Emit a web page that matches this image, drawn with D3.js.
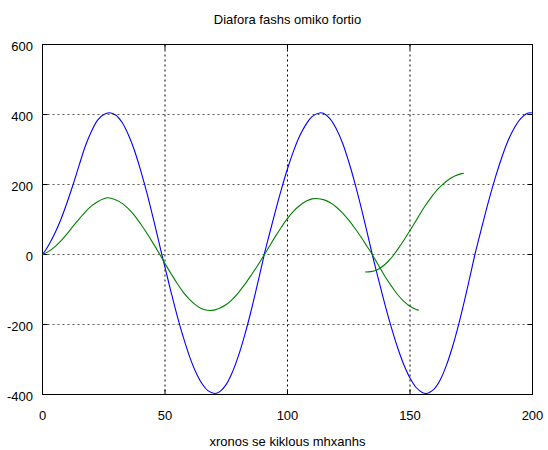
<!DOCTYPE html>
<html>
<head>
<meta charset="utf-8">
<script src="https://cdn.jsdelivr.net/npm/d3@7"></script>
<style>
  body { margin: 0; background: #fff; }
  text { font-family: "Liberation Sans", Arial, Helvetica, sans-serif; font-size: 13px; fill: #000; }
</style>
</head>
<body>
<svg id="chart" width="548" height="450"></svg>
<script>
// Axis ticks
const xTicks = [0, 50, 100, 150, 200];
const yTicks = [-400, -200, 0, 200, 400, 600];

// Blue trace
const blueX = [0, 1.5, 3, 5, 7.5, 10, 12.5, 15, 17.5, 20, 22.5, 25, 27.4, 30, 32.5, 35, 37.5, 40, 42.5, 45, 47.5, 48.7,
  50, 52.5, 55, 57.5, 60, 62.5, 65, 67.5, 70.3, 72.5, 75, 77.5, 80, 82.5, 85, 87.5, 90, 90.5, 92.5, 95, 97.5,
  100, 102.5, 105, 107.5, 110, 113.5, 115, 117.5, 120, 122.5, 125, 127.5, 130, 132.5, 134.6, 137.5, 140, 142.5,
  145, 147.5, 150, 152.5, 155, 156.7, 160, 162.5, 165, 167.5, 170, 172.5, 175, 176.5, 177.5, 180, 182.5, 185,
  187.5, 190, 192.5, 195, 197.5, 199.3, 200];
const blueY = [0, 15, 33, 60, 100, 148, 200, 256, 310, 352, 384, 400, 405, 398, 377, 343, 298, 242, 179, 109, 36, 0,
  -37, -108, -176, -237, -291, -335, -368, -389, -397, -391, -371, -336, -289, -231, -165, -92, -16, 0, 55, 122, 186,
  245, 296, 339, 371, 394, 405, 402, 387, 358, 318, 265, 204, 136, 63, 0, -81, -149, -211,
  -267, -315, -353, -380, -394, -397, -383, -356, -314, -260, -196, -124, -47, 0, 28, 97, 163, 224,
  278, 325, 361, 387, 402, 405, 404];

// Green trace, first part
const greenX = [0, 2.5, 5, 7.5, 10, 12.5, 15, 17.5, 20, 22.5, 25, 26.4, 30, 32.5, 35, 37.5, 40, 42.5, 45, 47.9,
  50, 52.5, 55, 57.5, 60, 62.5, 65, 68.3, 70, 72.5, 75, 77.5, 80, 82.5, 85, 87.5, 90.6, 92.5, 95, 97.5,
  100, 102.5, 105, 107.5, 110, 111.8, 115, 117.5, 120, 122.5, 125, 127.5, 130, 132.5, 134.6, 137.5, 140, 142.5,
  145, 147.5, 150, 152.5, 153.6];
const greenY = [0, 9, 22, 39, 59, 81, 102, 122, 139, 151, 159, 162, 156, 146, 131, 112, 88, 62, 34, 0,
  -26, -55, -83, -108, -128, -144, -155, -160, -159, -153, -143, -128, -109, -86, -61, -35, 0, 22, 51, 78,
  103, 124, 140, 152, 159, 160, 156, 148, 135, 118, 98, 75, 50, 23, 0, -35, -65, -91,
  -115, -134, -148, -157, -159];

// Green trace, second part
const green2X = [131.7, 134, 136.5, 139, 141, 143.5, 146, 148.5, 151, 153.5, 156, 158.5, 161, 163.5, 166, 168.5, 171, 172];
const green2Y = [-50, -49, -44, -33, -20, 0, 25, 52, 80, 109, 137, 162, 184, 201, 215, 225, 231, 232];

const svg = d3.select("#chart");
const plotL = 42.5, plotR = 532.5, plotT = 44.5, plotB = 394.5;

const x = d3.scaleLinear().domain([0, 200]).range([plotL, plotR]);
const y = d3.scaleLinear().domain([-400, 600]).range([plotB, plotT]);

// Grid: vertical lines black, horizontal lines a softer grey
const grid = svg.append("g").attr("stroke-width", 1).attr("stroke-dasharray", "2,3");
grid.selectAll(".gx").data(xTicks.slice(1, -1)).join("line")
  .attr("stroke", "#000")
  .attr("x1", d => x(d)).attr("x2", d => x(d)).attr("y1", plotT).attr("y2", plotB);
grid.selectAll(".gy").data(yTicks.slice(1, -1)).join("line")
  .attr("stroke", "#555")
  .attr("x1", plotL).attr("x2", plotR).attr("y1", d => y(d)).attr("y2", d => y(d));

// Inward ticks on all four sides
const tickLen = 5;
const ticks = svg.append("g").attr("stroke", "#000").attr("stroke-width", 1);
xTicks.forEach(v => {
  ticks.append("line").attr("x1", x(v)).attr("x2", x(v)).attr("y1", plotB).attr("y2", plotB - tickLen);
  ticks.append("line").attr("x1", x(v)).attr("x2", x(v)).attr("y1", plotT).attr("y2", plotT + tickLen);
});
yTicks.forEach(v => {
  ticks.append("line").attr("x1", plotL).attr("x2", plotL + tickLen).attr("y1", y(v)).attr("y2", y(v));
  ticks.append("line").attr("x1", plotR).attr("x2", plotR - tickLen).attr("y1", y(v)).attr("y2", y(v));
});

// Frame
svg.append("rect").attr("x", plotL).attr("y", plotT).attr("width", plotR - plotL).attr("height", plotB - plotT)
  .attr("fill", "none").attr("stroke", "#000").attr("stroke-width", 1);

// Tick labels
svg.append("g").selectAll("text").data(yTicks).join("text")
  .attr("x", 33).attr("y", d => y(d) + 6.5).attr("text-anchor", "end").text(d => d);
svg.append("g").selectAll("text").data(xTicks).join("text")
  .attr("x", d => x(d)).attr("y", 420).attr("text-anchor", "middle").text(d => d);

// Titles
svg.append("text").attr("x", (plotL + plotR) / 2).attr("y", 24).attr("text-anchor", "middle")
  .text("Diafora fashs omiko fortio");
svg.append("text").attr("x", (plotL + plotR) / 2).attr("y", 446).attr("text-anchor", "middle")
  .text("xronos se kiklous mhxanhs");

// Traces
const line = d3.line().x(d => x(d[0])).y(d => y(d[1])).curve(d3.curveCatmullRom.alpha(0.5));
const zipXY = (xs, ys) => xs.map((v, i) => [v, ys[i]]);

svg.append("path").datum(zipXY(blueX, blueY)).attr("d", line)
  .attr("fill", "none").attr("stroke", "#0000ff").attr("stroke-width", 1.1);
svg.append("path").datum(zipXY(greenX, greenY)).attr("d", line)
  .attr("fill", "none").attr("stroke", "#008000").attr("stroke-width", 1.1);
svg.append("path").datum(zipXY(green2X, green2Y)).attr("d", line)
  .attr("fill", "none").attr("stroke", "#008000").attr("stroke-width", 1.1);
</script>
</body>
</html>
